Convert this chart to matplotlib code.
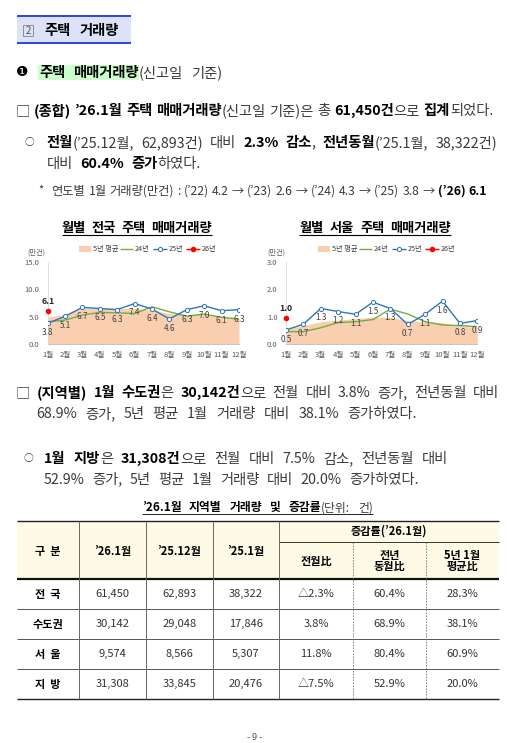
import numpy as np
import matplotlib
matplotlib.use('Agg')
import matplotlib.pyplot as plt
from matplotlib.patches import Rectangle
from matplotlib.ticker import FormatStrFormatter

plt.rcParams['font.family'] = ['Noto Sans CJK KR', 'DejaVu Sans']

W, H = 507, 743

# ---- data ----
months = ['1월', '2월', '3월', '4월', '5월', '6월', '7월', '8월', '9월', '10월', '11월', '12월']
nat_avg5 = [5.0, 5.4, 6.5, 6.5, 6.5, 6.5, 6.2, 5.6, 5.4, 5.6, 5.0, 4.7]
nat_24 = [4.1, 4.4, 5.3, 5.8, 5.7, 5.6, 6.8, 5.9, 5.1, 5.5, 4.9, 4.6]
nat_25 = [3.8, 5.1, 6.7, 6.5, 6.3, 7.4, 6.4, 4.6, 6.3, 7.0, 6.1, 6.3]
nat_26 = [6.1]
seo_avg5 = [0.55, 0.68, 0.82, 0.88, 0.94, 0.98, 0.98, 0.86, 0.82, 0.79, 0.66, 0.62]
seo_24 = [0.46, 0.46, 0.60, 0.79, 0.82, 0.90, 1.28, 1.10, 0.82, 0.70, 0.68, 0.64]
seo_25 = [0.52, 0.73, 1.30, 1.19, 1.09, 1.53, 1.30, 0.72, 1.09, 1.57, 0.76, 0.86]
seo_26 = [0.96]

jan_years = ['22', '23', '24', '25', '26']
jan_vals = [4.2, 2.6, 4.3, 3.8, 6.1]

regions = ['전 국', '수도권', '서 울', '지 방']
jan26 = [61450, 30142, 9574, 31308]
dec25 = [62893, 29048, 8566, 33845]
jan25 = [38322, 17846, 5307, 20476]
mom = [-2.3, 3.8, 11.8, -7.5]
yoy = [60.4, 68.9, 80.4, 52.9]
avg5 = [28.3, 38.1, 60.9, 20.0]

PEACH = '#f9cfb0'
GREEN = '#70ad47'
BLUE = '#2e75b6'
BODY = 10.3

fig = plt.figure(figsize=(W / 100, H / 100), dpi=100)
bg = fig.add_axes([0, 0, 1, 1])
bg.set_xlim(0, W)
bg.set_ylim(H, 0)
bg.axis('off')
r = fig.canvas.get_renderer()


def style(bold, size, color=None):
    return dict(fontsize=size, fontweight='bold' if bold else 'normal',
                color=color or ('#000000' if bold else '#3a3a3a'))


def width(txt, kw):
    t = bg.text(0, 0, '|' + txt + '|', **kw)
    w = t.get_window_extent(r).width
    t.remove()
    t = bg.text(0, 0, '||', **kw)
    w -= t.get_window_extent(r).width
    t.remove()
    return w


def parse(s):
    words = [[]]
    bold = False
    buf = ''
    for ch in s:
        if ch in '[]':
            if buf:
                words[-1].append((buf, bold))
                buf = ''
            bold = ch == '['
        elif ch == ' ':
            if buf:
                words[-1].append((buf, bold))
                buf = ''
            words.append([])
        else:
            buf += ch
    if buf:
        words[-1].append((buf, bold))
    return [w for w in words if w]


def write(s, x0, y, size, x1=None):
    words = parse(s)
    meas = [[(t, b, width(t, style(b, size))) for t, b in w] for w in words]
    total = sum(m[2] for w in meas for m in w)
    if x1 is None or len(words) < 2:
        gap = width(' ', style(False, size))
    else:
        gap = max((x1 - x0 - total) / (len(words) - 1), 1.5)
    yb = y + 0.38 * size * 100 / 72
    x = x0
    runs = []
    for w in meas:
        for t, b, wd in w:
            bg.text(x, yb, t, va='baseline', ha='left', **style(b, size))
            runs.append((x, x + wd, b))
            x += wd
        x += gap
    return runs


def hline(x0, x1, y, lw=0.7, color='#000000', ls='-'):
    bg.plot([x0, x1], [y, y], color=color, lw=lw, ls=ls, solid_capstyle='butt')


def vline(x, y0, y1, lw=0.7, color='#000000', ls='-'):
    bg.plot([x, x], [y0, y1], color=color, lw=lw, ls=ls, solid_capstyle='butt')


def small_circle(x, y):
    bg.text(x, y, '○', ha='center', va='center', fontsize=7, color='#333333')


# ---- header ----
bg.add_patch(Rectangle((16.7, 15), 114.3, 28.3, facecolor='#dce3f8', edgecolor='none', zorder=0))
hline(16.7, 131, 15.6, lw=1.4, color='#3040e8')
hline(16.7, 131, 42.8, lw=1.4, color='#3040e8')
bg.add_patch(Rectangle((22.7, 25), 10.6, 11, facecolor='none', edgecolor='#808080', lw=0.6))
bg.text(28, 30.8, '2', ha='center', va='center', fontsize=7, color='#555555')
write('[주택 거래량]', 44, 30, BODY, 119)

bg.text(22.3, 71.5, '❶', ha='center', va='center', fontsize=10, color='#000000',
        family=['DejaVu Sans'])
runs = write('[주택 매매거래량](신고일 기준)', 39, 72, BODY, 222)
hx1 = max(e for s, e, b in runs if b)
bg.add_patch(Rectangle((38.3, 65), hx1 - 38.3, 15, facecolor='#ccffcc', edgecolor='none', zorder=0))

write('□ [(종합) ’26.1월 주택 매매거래량](신고일 기준)은 총 [61,450건]으로 [집계]되었다.',
      16, 110, BODY, 493)
small_circle(29.5, 141.7)
write('[전월](’25.12월, 62,893건) 대비 [2.3% 감소], [전년동월](’25.1월, 38,322건)',
      46.7, 141.7, BODY, 497)
write('대비 [60.4% 증가]하였다.', 46.7, 162.3, BODY, 201)

parts = [f'(’{yy}) {v:.1f}' for yy, v in zip(jan_years[:-1], jan_vals[:-1])]
last = f'[(’{jan_years[-1]}) {jan_vals[-1]:.1f}]'
bg.text(41, 190, '*', ha='center', va='center', fontsize=8, color='#333333')
write('연도별 1월 거래량(만건) : ' + ' → '.join(parts) + ' → ' + last, 51.7, 190, 8.8, 487)


# ---- charts ----
def chart(lpx, rpx, ymax, avg, y24, y25, y26, title, tx0, tx1, lgx, unit_x):
    ax = fig.add_axes([lpx / W, 1 - 344.3 / H, (rpx - lpx) / W, (344.3 - 261.7) / H])
    ax.patch.set_alpha(0)
    x = np.arange(12)
    ax.fill_between(x, 0, avg, color=PEACH, lw=0, zorder=1)
    ax.plot(x, y24, color=GREEN, lw=1.0, zorder=2)
    ax.plot(x, y25, color=BLUE, lw=1.0, marker='o', ms=3, mfc='white', mec=BLUE,
            mew=0.7, zorder=3)
    ax.plot([0], y26, 'o', color='red', ms=3, zorder=4, clip_on=False)
    for xi, v in zip(x, y25):
        ax.annotate(f'{v:.1f}', (xi, v), xytext=(0, -6.8), textcoords='offset points',
                    ha='center', va='center', fontsize=5.8, color='#404040', zorder=5)
    ax.annotate(f'{y26[0]:.1f}', (0, y26[0]), xytext=(0, 6.8), textcoords='offset points',
                ha='center', va='center', fontsize=6.3, fontweight='bold', color='#262626')
    ax.set_xlim(0, 11)
    ax.set_ylim(0, ymax)
    ax.set_yticks(np.linspace(0, ymax, 4))
    ax.yaxis.set_major_formatter(FormatStrFormatter('%.1f'))
    ax.set_xticks(x, months)
    ax.tick_params(axis='both', length=0, labelsize=5.5, labelcolor='#595959')
    ax.tick_params(axis='x', pad=5)
    ax.tick_params(axis='y', pad=6)
    for s in ['top', 'right']:
        ax.spines[s].set_visible(False)
    ax.spines['left'].set_color('#d9d9d9')
    ax.spines['bottom'].set_color('#bfbfbf')
    ax.spines['left'].set_linewidth(0.6)
    ax.spines['bottom'].set_linewidth(0.6)

    write('[' + title + ']', tx0, 226.7, 9.5, tx1)
    hline(tx0, tx1, 234.8, lw=0.8)

    ly = 249
    bg.add_patch(Rectangle((lgx, ly - 3), 11.7, 6, facecolor=PEACH, edgecolor='none'))
    bg.text(lgx + 13.4, ly, '5년 평균', fontsize=5.2, color='#404040', va='center')
    hline(lgx + 40.7, lgx + 53.7, ly, lw=1.0, color=GREEN)
    bg.text(lgx + 55, ly, '24년', fontsize=5.2, color='#404040', va='center')
    hline(lgx + 73.7, lgx + 87.7, ly, lw=1.0, color=BLUE)
    bg.plot([lgx + 80.7], [ly], 'o', ms=3, mfc='white', mec=BLUE, mew=0.7)
    bg.text(lgx + 89, ly, '25년', fontsize=5.2, color='#404040', va='center')
    hline(lgx + 106.7, lgx + 120.7, ly, lw=1.0, color='red')
    bg.plot([lgx + 113.7], [ly], 'o', ms=3, color='red')
    bg.text(lgx + 122.7, ly, '26년', fontsize=5.2, color='#404040', va='center')
    bg.text(unit_x, 253, '(만건)', fontsize=5.2, color='#595959', va='center')


chart(47.7, 239, 15, nat_avg5, nat_24, nat_25, nat_26, '월별 전국 주택 매매거래량',
      61.7, 211.7, 79.3, 27)
chart(286, 477.3, 3, seo_avg5, seo_24, seo_25, seo_26, '월별 서울 주택 매매거래량',
      299.3, 451, 318.3, 267)

# ---- regional text ----
write('□ [(지역별) 1월 수도권]은 [30,142건]으로 전월 대비 3.8% 증가, 전년동월 대비',
      16, 391.7, BODY, 499)
write('68.9% 증가, 5년 평균 1월 거래량 대비 38.1% 증가하였다.', 36, 412.7, BODY, 416.7)
small_circle(28.3, 457.7)
write('[1월 지방]은 [31,308건]으로 전월 대비 7.5% 감소, 전년동월 대비',
      44.3, 457.7, BODY, 448)
write('52.9% 증가, 5년 평균 1월 거래량 대비 20.0% 증가하였다.', 44, 478.3, BODY, 418.3)

# ---- table ----
write('[’26.1월 지역별 거래량 및 증감률](단위: 건)', 141.7, 506.7, 8.5, 372.7)
hline(141.7, 372.7, 514, lw=0.6)

tl, tr = 16.7, 499
top, mid, hdr = 521, 541.7, 579.3
rows_y = [579.3, 609.3, 639.3, 669.3, 699.3]
cols = [16.7, 79.3, 146, 212.7, 279.3, 352.7, 426, 499]
bg.add_patch(Rectangle((tl, top), tr - tl, hdr - top, facecolor='#fdfbe6', edgecolor='none'))
hline(tl, tr, top, lw=1.0, color='#222222')
hline(cols[4], tr, mid, lw=0.7, color='#333333')
hline(tl, tr, hdr, lw=1.6, color='#111111')
for yy in rows_y[1:-1]:
    hline(tl, tr, yy, lw=0.7, color='#555555')
hline(tl, tr, rows_y[-1], lw=1.0, color='#222222')
for xx in cols[1:5]:
    vline(xx, top, rows_y[-1], lw=0.7, color='#666666')
for xx in cols[5:7]:
    vline(xx, mid, rows_y[-1], lw=0.6, color='#777777', ls=(0, (2, 1.5)))

cx = [(cols[i] + cols[i + 1]) / 2 for i in range(7)]
hb = dict(fontsize=8, fontweight='bold', color='#000000', ha='center', va='center')
bg.text(cx[0], 551, '구  분', **hb)
bg.text(cx[1], 551, '’26.1월', **hb)
bg.text(cx[2], 551, '’25.12월', **hb)
bg.text(cx[3], 551, '’25.1월', **hb)
bg.text((cols[4] + tr) / 2, 531.5, '증감률(’26.1월)', **hb)
bg.text(cx[4], 561, '전월比', **hb)
bg.text(cx[5], 561, '전년\n동월比', linespacing=0.85, **hb)
bg.text(cx[6], 561, '5년 1월\n평균比', linespacing=0.85, **hb)

vals = dict(fontsize=8, color='#333333', ha='center', va='center')


def pct(v):
    return f'△{abs(v):.1f}%' if v < 0 else f'{v:.1f}%'


for i in range(4):
    yc = (rows_y[i] + rows_y[i + 1]) / 2
    bg.text(cx[0], yc, regions[i].replace(' ', '  '), **hb)
    bg.text(cx[1], yc, f'{jan26[i]:,}', **vals)
    bg.text(cx[2], yc, f'{dec25[i]:,}', **vals)
    bg.text(cx[3], yc, f'{jan25[i]:,}', **vals)
    bg.text(cx[4], yc, pct(mom[i]), **vals)
    bg.text(cx[5], yc, pct(yoy[i]), **vals)
    bg.text(cx[6], yc, pct(avg5[i]), **vals)

bg.text(255, 738, '- 9 -', fontsize=6.5, color='#555555', ha='center', va='center')

fig.savefig('out.png', dpi=100)
